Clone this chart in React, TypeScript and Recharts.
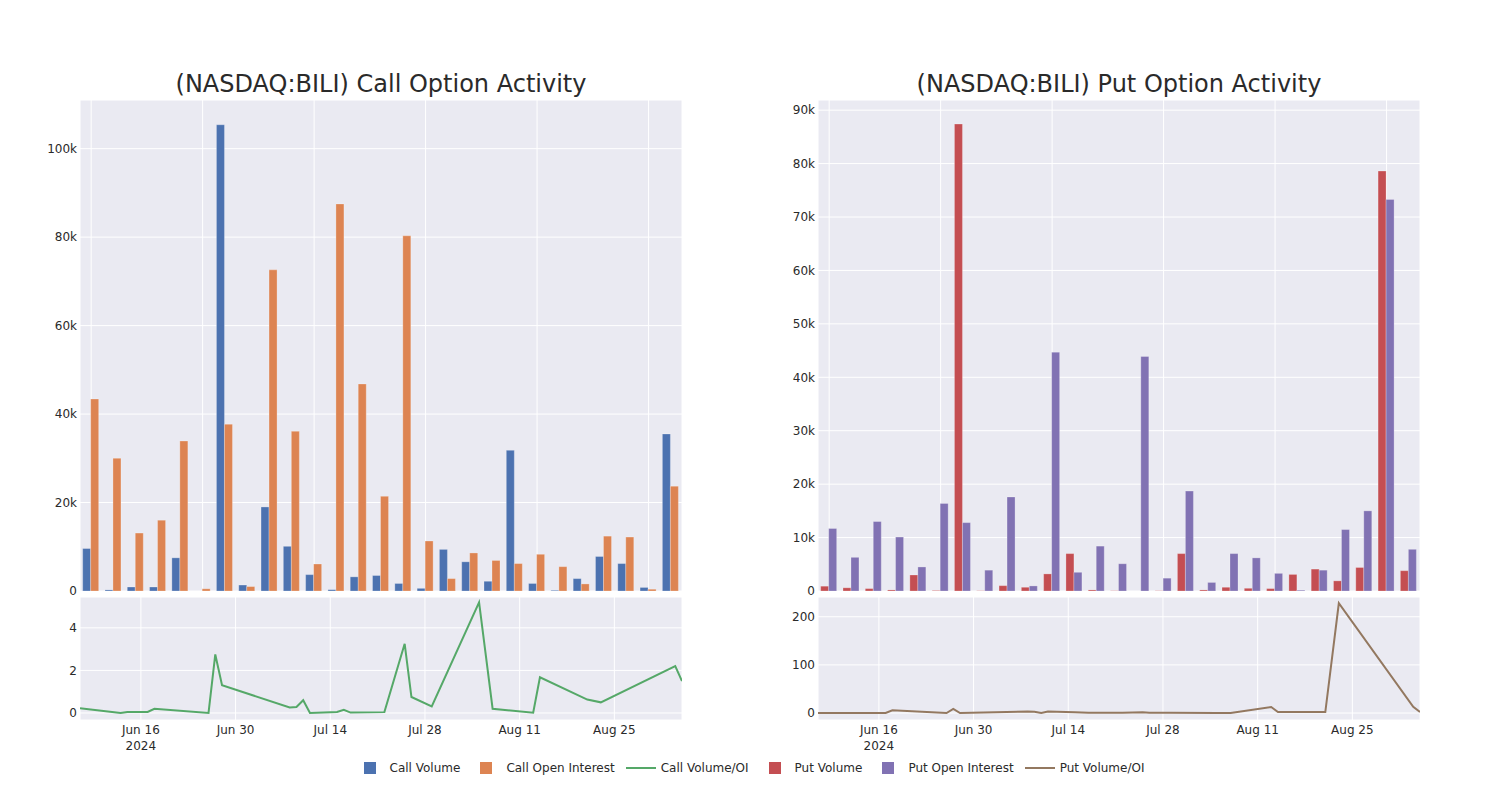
import React from 'react';
import { BarChart, Bar, LineChart, Line, XAxis, YAxis, CartesianGrid } from 'recharts';

const dates = [
    '2024-06-07', '2024-06-13', '2024-06-14', '2024-06-17', '2024-06-18', '2024-06-26', '2024-06-27',
    '2024-06-28', '2024-07-08', '2024-07-09', '2024-07-10', '2024-07-11', '2024-07-15', '2024-07-16',
    '2024-07-17', '2024-07-22', '2024-07-25', '2024-07-26', '2024-07-29', '2024-08-05', '2024-08-07',
    '2024-08-13', '2024-08-14', '2024-08-21', '2024-08-23', '2024-09-03', '2024-09-04',
];

const callVolume = [9600, 250, 900, 900, 7500, 0, 105400, 1350, 19000, 10100, 3700, 300, 3200, 3500, 1700, 600, 9400, 6600, 2200, 31800, 1700, 150, 2800, 7800, 6200, 800, 35500];
const callOpenInterest = [43400, 30000, 13100, 16000, 33900, 500, 37700, 1000, 72600, 36100, 6100, 87500, 46800, 21400, 80300, 11300, 2800, 8600, 6900, 6200, 8300, 5500, 1600, 12400, 12200, 400, 23700];
const callVolumeOI = [0.22, 0, 0.05, 0.05, 0.2, 0, 2.75, 1.3, 0.26, 0.28, 0.6, 0, 0.05, 0.15, 0.02, 0.04, 3.25, 0.75, 0.31, 5.2, 0.2, 0.01, 1.68, 0.63, 0.5, 2.2, 1.5];

const putVolume = [900, 600, 450, 200, 3000, 100, 87400, 50, 1000, 700, 3200, 7000, 200, 50, 0, 50, 7000, 200, 700, 500, 450, 3100, 4100, 1900, 4400, 78600, 3800];
const putOpenInterest = [11700, 6300, 13000, 10100, 4500, 16400, 12800, 3900, 17600, 950, 44700, 3500, 8400, 5100, 43900, 2400, 18700, 1600, 7000, 6200, 3300, 150, 3900, 11500, 15000, 73300, 7800];
const putVolumeOI = [0, 0, 0, 0, 5.5, 0, 8.5, 0, 3, 2.5, 0, 3, 1.5, 1, 0.5, 0.5, 1.5, 0.5, 0.5, 0.3, 0.3, 12.5, 2, 2, 228, 13, 2];

const dateTicks = ['2024-06-16', '2024-06-30', '2024-07-14', '2024-07-28', '2024-08-11', '2024-08-25'];
const callBarTicks = [0, 20000, 40000, 60000, 80000, 100000];
const putBarTicks = [0, 10000, 20000, 30000, 40000, 50000, 60000, 70000, 80000, 90000];
const callLineTicks = [0, 2, 4];
const putLineTicks = [0, 100, 200];

const MONTHS = ['Jan', 'Feb', 'Mar', 'Apr', 'May', 'Jun', 'Jul', 'Aug', 'Sep', 'Oct', 'Nov', 'Dec'];
const FONT = '"DejaVu Sans", Verdana, sans-serif';
const TEXT = '#2a2a2a';
const BG = '#eaeaf2';

const toTime = (d: string) => {
    const [y, m, day] = d.split('-').map(Number);
    return Date.UTC(y, m - 1, day);
};

const kFormat = (v: number) => (v === 0 ? '0' : `${v / 1000}k`);

const DateTick = ({ x, y, payload, index }: any) => {
    const d = new Date(payload.value);
    return (
        <text x={x} y={y} textAnchor="middle" fill={TEXT} fontSize={12} fontFamily={FONT}>
            <tspan x={x} dy={14}>{`${MONTHS[d.getUTCMonth()]} ${d.getUTCDate()}`}</tspan>
            {index === 0 && <tspan x={x} dy={16}>{d.getUTCFullYear()}</tspan>}
        </text>
    );
};

const Panel = ({ left, title, volume, openInterest, ratio, names, colors, barMax, barTicks, lineDomain, lineTicks }: any) => {
    const barData = dates.map((d, i) => ({ date: d, volume: volume[i], oi: openInterest[i] }));
    const lineData = dates.map((d, i) => ({ t: toTime(d), ratio: ratio[i] }));
    const tickStyle = { fill: TEXT, fontSize: 12, fontFamily: FONT };

    return (
        <>
            <div
                style={{
                    position: 'absolute', left: left + 80, top: 70, width: 602, textAlign: 'center',
                    fontFamily: FONT, fontSize: 24, lineHeight: '28px', color: TEXT,
                }}
            >
                {title}
            </div>
            <div style={{ position: 'absolute', left, top: 100 }}>
                <BarChart width={700} height={500} data={barData} margin={{ top: 0, right: 18, bottom: 9, left: 0 }}
                    barCategoryGap="12%" barGap={0}>
                    <CartesianGrid fill={BG} stroke="#ffffff" strokeWidth={1} />
                    <XAxis dataKey="date" interval={4} tick={{ fill: 'transparent', fontSize: 1 }}
                        axisLine={false} tickLine={false} height={0} />
                    <YAxis width={80} domain={[0, barMax]} ticks={barTicks} tickFormatter={kFormat} interval={0}
                        axisLine={false} tickLine={false} tickSize={0} tickMargin={3} tick={tickStyle} />
                    <Bar dataKey="volume" name={names[0]} fill={colors[0]} stroke="#ffffff" strokeOpacity={0.5} strokeWidth={0.5} isAnimationActive={false} />
                    <Bar dataKey="oi" name={names[1]} fill={colors[1]} stroke="#ffffff" strokeOpacity={0.5} strokeWidth={0.5} isAnimationActive={false} />
                </BarChart>
            </div>
            <div style={{ position: 'absolute', left, top: 597 }}>
                <LineChart width={700} height={163} data={lineData} margin={{ top: 0, right: 18, bottom: 0, left: 0 }}>
                    <CartesianGrid fill={BG} stroke="#ffffff" strokeWidth={1} />
                    <XAxis dataKey="t" type="number" domain={[toTime(dates[0]), toTime(dates[dates.length - 1])]}
                        ticks={dateTicks.map(toTime)} tick={<DateTick />} interval={0} axisLine={false} tickLine={false}
                        tickSize={0} tickMargin={0} height={40} allowDataOverflow />
                    <YAxis width={80} domain={lineDomain} ticks={lineTicks} interval={0} axisLine={false} tickLine={false}
                        tickSize={0} tickMargin={3} tick={tickStyle} allowDataOverflow />
                    <Line dataKey="ratio" name={names[2]} stroke={colors[2]} strokeWidth={2} dot={false}
                        type="linear" isAnimationActive={false} />
                </LineChart>
            </div>
        </>
    );
};

const legendItems = [
    { label: 'Call Volume', color: '#4c72b0', kind: 'square' },
    { label: 'Call Open Interest', color: '#dd8452', kind: 'square' },
    { label: 'Call Volume/OI', color: '#55a868', kind: 'line' },
    { label: 'Put Volume', color: '#c44e52', kind: 'square' },
    { label: 'Put Open Interest', color: '#8172b3', kind: 'square' },
    { label: 'Put Volume/OI', color: '#937860', kind: 'line' },
];

const App = () => {
    return (
        <div style={{ position: 'absolute', left: 0, top: 0, width: 1500, height: 800, background: '#ffffff', fontFamily: FONT }}>
            <Panel
                left={0}
                title="(NASDAQ:BILI) Call Option Activity"
                volume={callVolume}
                openInterest={callOpenInterest}
                ratio={callVolumeOI}
                names={['Call Volume', 'Call Open Interest', 'Call Volume/OI']}
                colors={['#4c72b0', '#dd8452', '#55a868']}
                barMax={111000}
                barTicks={callBarTicks}
                lineDomain={[-0.33, 5.45]}
                lineTicks={callLineTicks}
            />
            <Panel
                left={738}
                title="(NASDAQ:BILI) Put Option Activity"
                volume={putVolume}
                openInterest={putOpenInterest}
                ratio={putVolumeOI}
                names={['Put Volume', 'Put Open Interest', 'Put Volume/OI']}
                colors={['#c44e52', '#8172b3', '#937860']}
                barMax={91900}
                barTicks={putBarTicks}
                lineDomain={[-14.5, 241]}
                lineTicks={putLineTicks}
            />
            <div style={{ position: 'absolute', left: 0, top: 760, width: 1500, display: 'flex', justifyContent: 'center' }}>
                {legendItems.map(item => (
                    <div key={item.label} style={{ display: 'flex', alignItems: 'center', height: 16, marginRight: 6 }}>
                        <div style={{ width: 40, display: 'flex', justifyContent: 'center', alignItems: 'center' }}>
                            {item.kind === 'square'
                                ? <div style={{ width: 12, height: 12, background: item.color }} />
                                : <div style={{ width: 30, height: 2, background: item.color }} />}
                        </div>
                        <span style={{ fontSize: 12, color: TEXT, whiteSpace: 'nowrap' }}>{item.label}</span>
                    </div>
                ))}
            </div>
        </div>
    );
};

export default App;
